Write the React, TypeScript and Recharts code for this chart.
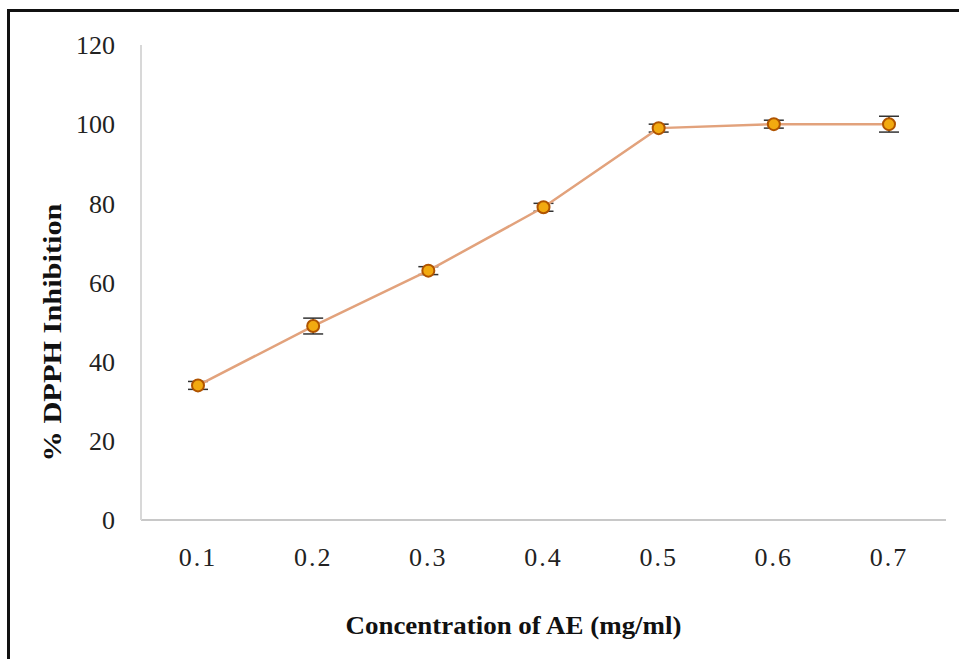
import React from "react";
import { LineChart, Line, XAxis, YAxis, ErrorBar } from "recharts";

const concentrations = ["0.1", "0.2", "0.3", "0.4", "0.5", "0.6", "0.7"];
const inhibition = [34, 49, 63, 79, 99, 100, 100];
const errors = [1, 2, 1, 1, 1, 1, 2];
const yTicks = [0, 20, 40, 60, 80, 100, 120];

const data = concentrations.map((c, i) => ({
    conc: c,
    value: inhibition[i],
    err: errors[i],
}));

const serif = "'Liberation Serif', 'Times New Roman', serif";

const Marker = (props: any) => {
    const { cx, cy } = props;
    if (cx == null || cy == null) return null;
    return <circle cx={cx} cy={cy} r={6} fill="#f2aa10" stroke="#b05400" strokeWidth={2} />;
};

const YTitle = (props: any) => {
    const { viewBox } = props;
    const x = viewBox.x + 52;
    const y = viewBox.y + viewBox.height / 2 + 50;
    return (
        <text
            x={x}
            y={y}
            transform={`rotate(-90, ${x}, ${y})`}
            textAnchor="middle"
            dominantBaseline="central"
            fontFamily={serif}
            fontWeight="bold"
            fontSize={26}
            textLength={258}
            lengthAdjust="spacingAndGlyphs"
            fill="#111"
        >
            % DPPH Inhibition
        </text>
    );
};

const XTitle = (props: any) => {
    const { viewBox } = props;
    const x = viewBox.x + viewBox.width / 2 - 30;
    const y = viewBox.y + 105;
    return (
        <text
            x={x}
            y={y}
            textAnchor="middle"
            dominantBaseline="central"
            fontFamily={serif}
            fontWeight="bold"
            fontSize={26}
            textLength={336}
            lengthAdjust="spacingAndGlyphs"
            fill="#111"
        >
            Concentration of AE (mg/ml)
        </text>
    );
};

export default function App() {
    return (
        <div style={{ position: "absolute", left: 0, top: 0, width: 959, height: 659, background: "#fff", overflow: "hidden" }}>
            <div
                style={{
                    position: "absolute",
                    left: 7,
                    top: 9,
                    width: 959,
                    height: 660,
                    borderLeft: "3px solid #111",
                    borderTop: "3px solid #111",
                }}
            />
            <LineChart
                width={959}
                height={659}
                data={data}
                margin={{ top: 45, right: 13, left: 0, bottom: 0 }}
                style={{ position: "absolute", left: 0, top: 0 }}
            >
                <XAxis
                    dataKey="conc"
                    height={139}
                    padding={{ left: 57, right: 57 }}
                    axisLine={{ stroke: "#c8c8c8", strokeWidth: 2 }}
                    tickLine={false}
                    tick={{ fill: "#222", fontSize: 26, fontFamily: serif, letterSpacing: 2 }}
                    tickMargin={22}
                    label={<XTitle />}
                />
                <YAxis
                    width={141}
                    domain={[0, 120]}
                    ticks={yTicks}
                    interval={0}
                    axisLine={{ stroke: "#d8d8d8", strokeWidth: 2 }}
                    tickLine={false}
                    tick={{ fill: "#222", fontSize: 26, fontFamily: serif }}
                    tickMargin={20}
                    label={<YTitle />}
                />
                <Line
                    type="linear"
                    dataKey="value"
                    stroke="#e2a27c"
                    strokeWidth={2.5}
                    dot={<Marker />}
                    activeDot={false}
                    isAnimationActive={false}
                >
                    <ErrorBar dataKey="err" direction="y" width={10} stroke="#333" strokeWidth={1.5} />
                </Line>
            </LineChart>
        </div>
    );
}
